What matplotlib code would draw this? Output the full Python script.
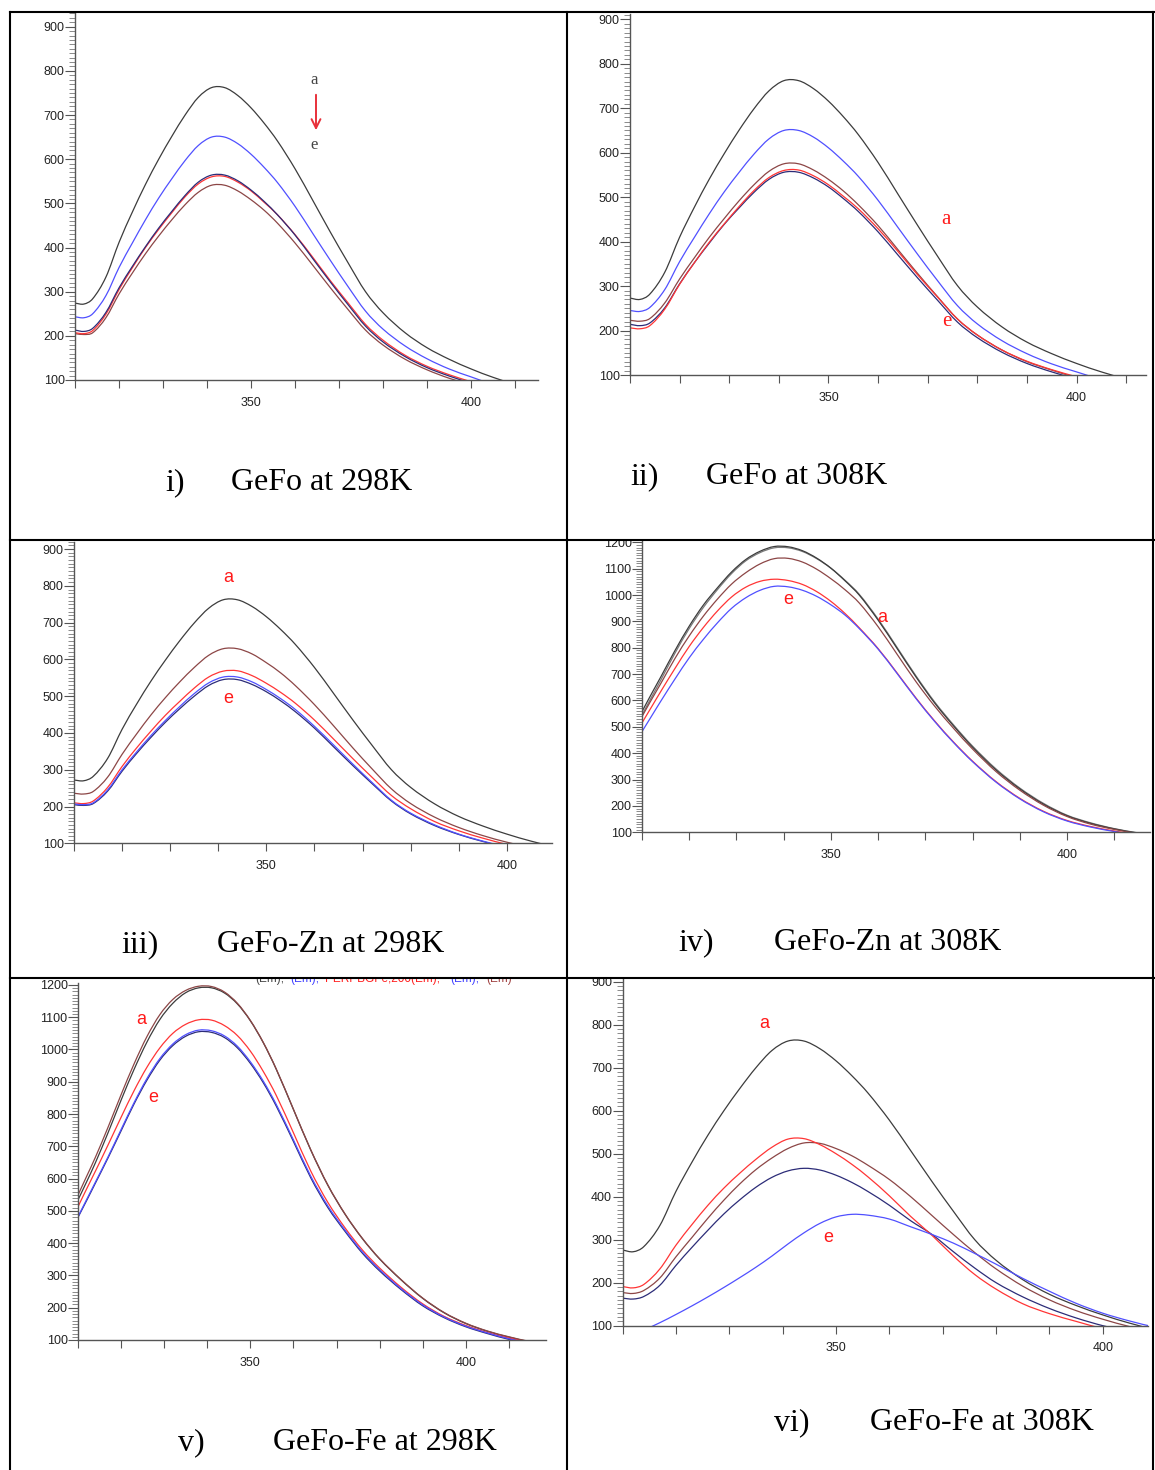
import matplotlib
matplotlib.use('Agg')
import matplotlib.pyplot as plt
from matplotlib.ticker import MultipleLocator, FixedLocator, FuncFormatter
from matplotlib.patches import Rectangle, PathPatch, FancyArrowPatch
from matplotlib.lines import Line2D
from matplotlib.path import Path

# wavelength grid (nm) shared by all spectra
wl = [310, 312, 314, 317, 320, 323, 326, 329, 332, 335, 338, 341, 344, 347, 350,
      353, 356, 360, 364, 368, 372, 376, 380, 385, 390, 395, 400, 405, 410, 415, 420]

# i) GeFo at 298K
i_black = [274, 272, 284, 333, 412, 480, 543, 600, 652, 700, 740, 762, 762, 744, 716, 681, 641, 578, 507, 435, 366, 300, 252, 207, 173, 147, 125, 106, 90, 76, 64]
i_blue = [243, 241, 250, 291, 355, 410, 463, 512, 556, 597, 631, 650, 650, 635, 611, 581, 547, 493, 432, 371, 312, 256, 215, 177, 148, 125, 107, 90, 77, 65, 55]
i_navy = [213, 210, 217, 253, 309, 357, 402, 444, 482, 518, 548, 564, 564, 551, 530, 504, 474, 428, 375, 322, 271, 222, 186, 153, 128, 109, 93, 78, 67, 56, 47]
i_red = [207, 205, 212, 249, 305, 354, 400, 441, 479, 515, 544, 560, 561, 548, 528, 502, 474, 429, 378, 325, 275, 226, 190, 156, 131, 112, 96, 80, 68, 58, 49]
i_brown = [205, 203, 207, 241, 295, 342, 386, 426, 463, 497, 525, 541, 541, 528, 508, 484, 455, 410, 360, 309, 260, 213, 179, 147, 123, 104, 89, 75, 64, 54, 45]

# ii) GeFo at 308K
ii_black = [273, 270, 282, 331, 410, 478, 541, 598, 651, 699, 739, 762, 762, 744, 716, 681, 641, 578, 507, 436, 367, 301, 253, 208, 174, 148, 126, 107, 91, 77, 65]
ii_blue = [245, 243, 252, 292, 355, 410, 463, 512, 556, 597, 631, 650, 650, 635, 611, 581, 547, 493, 432, 371, 312, 256, 215, 177, 148, 125, 107, 90, 77, 65, 55]
ii_brown = [223, 221, 227, 262, 316, 364, 410, 452, 492, 528, 558, 575, 575, 561, 540, 514, 483, 436, 382, 328, 276, 226, 190, 156, 130, 111, 94, 80, 68, 57, 48]
ii_red = [206, 204, 211, 248, 304, 353, 399, 440, 479, 515, 544, 560, 561, 548, 528, 502, 474, 429, 378, 325, 275, 226, 190, 156, 131, 112, 96, 80, 68, 58, 49]
ii_navy = [214, 211, 217, 251, 305, 353, 397, 439, 476, 511, 540, 556, 556, 543, 523, 497, 468, 422, 370, 318, 268, 219, 184, 151, 126, 107, 91, 77, 66, 55, 47]

# iii) GeFo-Zn at 298K
iii_black = [272, 270, 282, 331, 410, 478, 541, 598, 651, 699, 739, 762, 762, 744, 716, 681, 641, 578, 507, 435, 366, 300, 252, 207, 173, 147, 125, 106, 90, 76, 64]
iii_brown = [236, 234, 241, 280, 342, 397, 449, 496, 539, 578, 611, 629, 629, 615, 591, 563, 529, 477, 419, 359, 302, 248, 208, 171, 143, 121, 103, 88, 74, 63, 53]
iii_red = [210, 208, 215, 252, 309, 359, 405, 448, 486, 522, 552, 568, 569, 556, 535, 510, 481, 435, 383, 330, 279, 230, 194, 159, 134, 114, 97, 82, 69, 59, 50]
iii_blue = [207, 205, 210, 245, 300, 348, 393, 434, 472, 507, 536, 552, 552, 539, 518, 493, 464, 418, 367, 315, 265, 217, 182, 150, 125, 106, 90, 77, 65, 55, 46]
iii_navy = [205, 203, 208, 242, 296, 344, 388, 429, 466, 500, 529, 545, 545, 532, 512, 487, 458, 413, 362, 311, 262, 215, 180, 148, 124, 105, 89, 76, 64, 54, 46]

# iv) GeFo-Zn at 308K
iv_black = [558, 625, 690, 790, 882, 962, 1028, 1088, 1135, 1166, 1184, 1183, 1168, 1140, 1102, 1054, 1000, 905, 798, 690, 590, 503, 423, 336, 265, 207, 163, 134, 113, 97, 83]
iv_gray = [545, 612, 678, 780, 873, 953, 1021, 1082, 1130, 1161, 1179, 1179, 1165, 1138, 1102, 1056, 1003, 909, 802, 694, 594, 507, 427, 340, 268, 210, 165, 136, 114, 98, 84]
iv_brown = [539, 603, 665, 760, 845, 920, 985, 1042, 1085, 1118, 1138, 1139, 1125, 1098, 1062, 1020, 970, 880, 776, 672, 578, 494, 416, 330, 260, 203, 160, 131, 111, 95, 81]
iv_red = [515, 575, 635, 722, 805, 877, 940, 993, 1030, 1052, 1060, 1055, 1040, 1013, 976, 930, 876, 797, 705, 610, 522, 442, 370, 292, 229, 180, 145, 122, 105, 90, 77]
iv_blue = [482, 540, 598, 682, 762, 832, 895, 950, 990, 1018, 1033, 1031, 1018, 995, 963, 924, 873, 795, 703, 608, 520, 440, 368, 290, 227, 178, 143, 120, 103, 88, 75]

# v) GeFo-Fe at 298K
v_brown = [549, 607, 665, 760, 860, 955, 1040, 1108, 1155, 1183, 1196, 1195, 1178, 1143, 1090, 1022, 940, 815, 690, 580, 490, 415, 352, 287, 230, 185, 152, 128, 110, 95, 83]
v_black = [534, 590, 648, 743, 843, 938, 1023, 1093, 1143, 1176, 1191, 1191, 1175, 1141, 1089, 1021, 939, 814, 689, 579, 489, 414, 351, 286, 229, 184, 151, 127, 109, 94, 82]
v_red = [513, 568, 622, 705, 790, 872, 945, 1005, 1050, 1078, 1092, 1091, 1074, 1043, 995, 932, 858, 742, 624, 526, 447, 379, 323, 263, 212, 173, 145, 123, 106, 92, 80]
v_blue = [482, 535, 588, 668, 752, 835, 910, 972, 1017, 1046, 1060, 1058, 1042, 1010, 962, 902, 830, 720, 608, 515, 440, 373, 318, 259, 209, 171, 143, 122, 104, 90, 79]
v_navy = [480, 532, 585, 665, 748, 831, 905, 967, 1012, 1041, 1055, 1053, 1037, 1005, 957, 897, 825, 715, 603, 510, 436, 369, 314, 256, 206, 169, 141, 120, 102, 88, 77]

# vi) GeFo-Fe at 308K
vi_black = [276, 272, 284, 333, 412, 480, 543, 600, 652, 700, 740, 762, 762, 744, 716, 681, 641, 578, 507, 435, 366, 300, 252, 207, 173, 147, 125, 106, 90, 76, 64]
vi_red = [191, 188, 196, 232, 287, 335, 380, 420, 455, 487, 515, 534, 535, 521, 500, 475, 446, 402, 354, 310, 262, 219, 185, 151, 128, 110, 93, 79, 67, 57, 48]
vi_brown = [177, 175, 182, 211, 260, 305, 350, 392, 430, 463, 490, 512, 525, 524, 512, 495, 473, 440, 400, 356, 312, 270, 232, 192, 160, 135, 115, 98, 84, 72, 62]
vi_navy = [164, 162, 168, 194, 240, 282, 322, 360, 393, 422, 445, 460, 466, 462, 450, 433, 412, 380, 344, 312, 272, 234, 200, 167, 140, 118, 100, 86, 74, 64, 55]
vi_blue = [70, 80, 90, 107, 126, 146, 167, 189, 212, 236, 262, 290, 316, 338, 353, 359, 357, 348, 330, 312, 292, 268, 243, 210, 180, 152, 129, 111, 96, 84, 74]

captions = [("i)", "GeFo at 298K"), ("ii)", "GeFo at 308K"),
            ("iii)", "GeFo-Zn at 298K"), ("iv)", "GeFo-Zn at 308K"),
            ("v)", "GeFo-Fe at 298K"), ("vi)", "GeFo-Fe at 308K")]

# line colours
BLACK = '#3c3c3c'
GRAY = '#7a7a7a'
BLUE = '#5050ff'
NAVY = '#2c2c78'
RED = '#ff3535'
BROWN = '#8c4646'
LABEL_RED = '#ff1a1a'

W, H = 1155, 1470
fig = plt.figure(figsize=(W / 100, H / 100), dpi=100)
fig.patch.set_facecolor('white')


def fx(x):
    return x / W


def fy(y):
    return 1 - y / H


def spectrum_path(xs, ys):
    # smooth cubic (Hermite) segments through the read points
    n = len(xs)
    slopes = []
    for k in range(n):
        a = max(k - 1, 0)
        b = min(k + 1, n - 1)
        slopes.append((ys[b] - ys[a]) / (xs[b] - xs[a]))
    verts = [(xs[0], ys[0])]
    codes = [Path.MOVETO]
    for k in range(n - 1):
        h = xs[k + 1] - xs[k]
        verts += [(xs[k] + h / 3, ys[k] + slopes[k] * h / 3),
                  (xs[k + 1] - h / 3, ys[k + 1] - slopes[k + 1] * h / 3),
                  (xs[k + 1], ys[k + 1])]
        codes += [Path.CURVE4] * 3
    return Path(verts, codes)


def panel(x0, x1, y0, y1, xlim, ylim, curves):
    ax = fig.add_axes([fx(x0), fy(y1), (x1 - x0) / W, (y1 - y0) / H])
    for vals, col in curves:
        ax.add_patch(PathPatch(spectrum_path(wl, vals), fill=False,
                               edgecolor=col, lw=0.9))
    ax.set_xlim(*xlim)
    ax.set_ylim(*ylim)
    for s in ('top', 'right'):
        ax.spines[s].set_visible(False)
    for s in ('left', 'bottom'):
        ax.spines[s].set_color('#555555')
        ax.spines[s].set_linewidth(1.0)
    ax.yaxis.set_major_locator(MultipleLocator(100))
    ax.yaxis.set_minor_locator(MultipleLocator(10))
    ax.xaxis.set_major_locator(FixedLocator(list(range(310, 420, 10))))
    ax.xaxis.set_major_formatter(FuncFormatter(
        lambda v, p: '%d' % round(v) if round(v) in (350, 400) else ''))
    ax.tick_params(axis='y', which='major', direction='out', length=7, width=0.8,
                   color='#555555', labelsize=9, labelcolor='#222222', pad=0.5)
    ax.tick_params(axis='y', which='minor', direction='out', length=4, width=0.6,
                   color='#777777')
    ax.tick_params(axis='x', which='major', direction='out', length=6, width=0.8,
                   color='#555555', labelsize=9, labelcolor='#222222', pad=6)
    for lab in ax.get_xticklabels() + ax.get_yticklabels():
        lab.set_family('Liberation Sans')
    return ax


panel(75.1, 538, 13, 380, (310, 415.2), (100, 931),
      [(i_black, BLACK), (i_blue, BLUE), (i_brown, BROWN), (i_red, RED), (i_navy, NAVY)])
panel(630, 1146, 14, 375, (310, 414), (100, 912),
      [(ii_black, BLACK), (ii_blue, BLUE), (ii_brown, BROWN), (ii_navy, NAVY), (ii_red, RED)])
panel(74, 551.6, 541.7, 843.3, (310, 409.3), (100, 920),
      [(iii_black, BLACK), (iii_brown, BROWN), (iii_red, RED), (iii_navy, NAVY), (iii_blue, BLUE)])
panel(642, 1149.6, 541, 832.3, (310, 417.5), (100, 1205),
      [(iv_gray, GRAY), (iv_black, BLACK), (iv_brown, BROWN), (iv_red, RED), (iv_blue, BLUE)])
panel(78, 545.5, 983, 1340, (310, 418.5), (100, 1206),
      [(v_black, BLACK), (v_brown, BROWN), (v_red, RED), (v_navy, NAVY), (v_blue, BLUE)])
panel(622.5, 1147.7, 978, 1325.7, (310, 408.4), (100, 908.6),
      [(vi_black, BLACK), (vi_brown, BROWN), (vi_navy, NAVY), (vi_red, RED), (vi_blue, BLUE)])

# series markers a / e
serif = 'Liberation Serif'
sans = 'Liberation Sans'
fig.text(fx(314), fy(80), 'a', family=serif, size=12, color='#444444', ha='center', va='center')
fig.text(fx(314), fy(145), 'e', family=serif, size=12, color='#444444', ha='center', va='center')
fig.add_artist(FancyArrowPatch(
    (fx(316), fy(92)), (fx(316), fy(133)), transform=fig.transFigure,
    arrowstyle='->', mutation_scale=16, color='#e8303a', lw=1.4))
fig.text(fx(946), fy(220), 'a', family=serif, size=15, color=LABEL_RED, ha='center', va='center')
fig.text(fx(947), fy(322), 'e', family=serif, size=15, color=LABEL_RED, ha='center', va='center')
for x, y, t in [(228, 578, 'a'), (228, 699, 'e'), (788, 600, 'e'), (882, 618, 'a'),
                (141, 1020, 'a'), (153, 1098, 'e'), (764, 1024, 'a'), (828, 1237, 'e')]:
    fig.text(fx(x), fy(y), t, family=sans, size=13, color=LABEL_RED, ha='center', va='center')

# legend remnant at the top of panel v (cut off by the table rule)
for x, t, col in [(255, '(Em),', '#444444'), (290, '(Em),', '#4040ff'),
                  (325, 'PERPBGFe,200(Em),', '#ff2020'), (450, '(Em),', '#4040ff'),
                  (486, '(Em)', '#a04040')]:
    fig.text(fx(x), fy(982), t, family=sans, size=8.5, color=col, ha='left', va='baseline')

# captions
cap_pos = [(165, 231, 490), (630, 706, 484), (121, 217, 952),
           (678, 774, 950), (178, 273, 1450), (774, 870, 1430)]
for (num, title), (xn, xt, yb) in zip(captions, cap_pos):
    fig.text(fx(xn), fy(yb), num, family=serif, size=23, color='black', va='baseline')
    fig.text(fx(xt), fy(yb), title, family=serif, size=23, color='black', va='baseline')

# blank strips above the row rules so cropped labels look cut
for x0, y0, x1, y1 in [(567, 527, 1155, 539.5), (10, 965, 1155, 977.5)]:
    fig.add_artist(Rectangle((fx(x0), fy(y1)), (x1 - x0) / W, (y1 - y0) / H,
                             transform=fig.transFigure, facecolor='white',
                             edgecolor='none', zorder=5))

# table rules
rules = [((10, 1155), (12, 12)), ((10, 1155), (540, 540)), ((10, 1155), (978, 978)),
         ((10, 10), (12, 1470)), ((567, 567), (12, 1470)), ((1153, 1153), (12, 1470))]
for xs, ys in rules:
    fig.add_artist(Line2D([fx(v) for v in xs], [fy(v) for v in ys],
                          transform=fig.transFigure, color='black', lw=1.5, zorder=10))

fig.savefig('out.png', dpi=100, facecolor='white')
